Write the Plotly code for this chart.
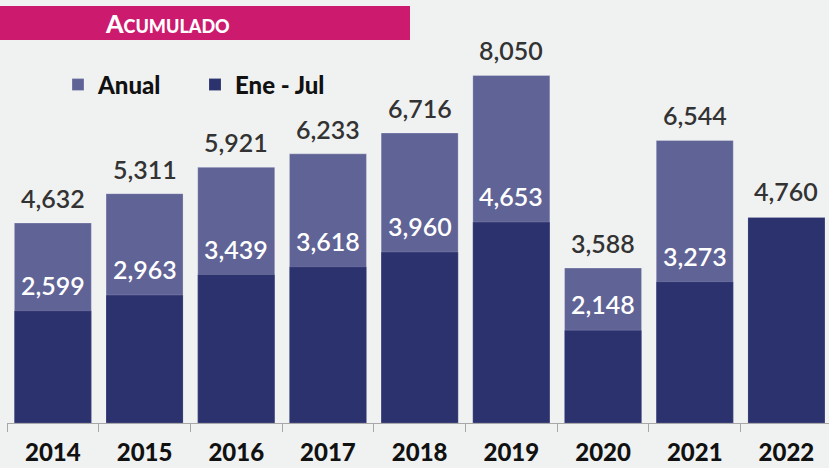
import plotly.graph_objects as go

# Accumulated totals per year: full year vs. January-July
years = ["2014", "2015", "2016", "2017", "2018", "2019", "2020", "2021", "2022"]
anual = [4632, 5311, 5921, 6233, 6716, 8050, 3588, 6544, None]
ene_jul = [2599, 2963, 3439, 3618, 3960, 4653, 2148, 3273, 4760]

COLOR_ANUAL = "#606396"
COLOR_ENEJUL = "#2b326e"
BG = "#f0f2f1"
BANNER = "#cc1a6e"
NUM_FONT = "Lato"

fig = go.Figure()
fig.add_trace(go.Bar(
    x=years, y=anual, name="Anual", marker_color=COLOR_ANUAL,
    marker_line=dict(color="rgba(255,255,255,0.25)", width=1), width=0.84,
))
fig.add_trace(go.Bar(
    x=years, y=ene_jul, name="Ene - Jul", marker_color=COLOR_ENEJUL,
    marker_line=dict(color="rgba(255,255,255,0.15)", width=1), width=0.84,
))

annotations = []
for i, (a, e) in enumerate(zip(anual, ene_jul)):
    if a is not None:
        annotations.append(dict(
            x=i, y=a, text=f"{a:,}", showarrow=False, yanchor="middle", yshift=25,
            font=dict(family=NUM_FONT, size=25, color="#333333", weight=600),
        ))
    annotations.append(dict(
        x=i, y=e, text=f"{e:,}", showarrow=False, yanchor="middle", yshift=26,
        font=dict(family=NUM_FONT, size=25, color="#ffffff" if a is not None else "#333333", weight=600),
    ))

# Title banner
annotations.append(dict(
    xref="paper", yref="paper", x=(103 - 7) / 822, y=(423 - 23) / 378,
    xanchor="left", yanchor="middle", showarrow=False,
    text="A<span style='font-size:18px'>CUMULADO</span>",
    font=dict(family=NUM_FONT, size=25, color="#ffffff", weight=900),
))

fig.update_layout(
    width=829, height=468,
    margin=dict(l=7, r=0, t=45, b=45),
    paper_bgcolor=BG, plot_bgcolor=BG,
    barmode="overlay",
    showlegend=True,
    legend=dict(
        orientation="h", x=(58 - 7) / 822, y=(423 - 85) / 378,
        xanchor="left", yanchor="middle", bgcolor="rgba(0,0,0,0)",
        font=dict(family=NUM_FONT, size=24, color="#111111", weight=900),
        traceorder="normal", entrywidth=92, entrywidthmode="pixels",
    ),
    xaxis=dict(
        type="category", range=[-0.5, 8.464], automargin=False,
        showline=True, linecolor="#a8a8a8", linewidth=1,
        ticks="outside", tickson="boundaries", ticklen=8, tickcolor="#a8a8a8",
        tickfont=dict(family=NUM_FONT, size=24, color="#111111", weight=900),
        ticklabelstandoff=8, showgrid=False, zeroline=False,
    ),
    yaxis=dict(range=[0, 8754], visible=False, showgrid=False, zeroline=False,
               automargin=False),
    shapes=[dict(
        type="rect", xref="paper", yref="paper",
        x0=-7 / 822, x1=(410 - 7) / 822,
        y0=(423 - 40) / 378, y1=(423 - 6) / 378,
        fillcolor=BANNER, line=dict(width=0), layer="below",
    )],
    annotations=annotations,
)

fig.write_html("out.html")
